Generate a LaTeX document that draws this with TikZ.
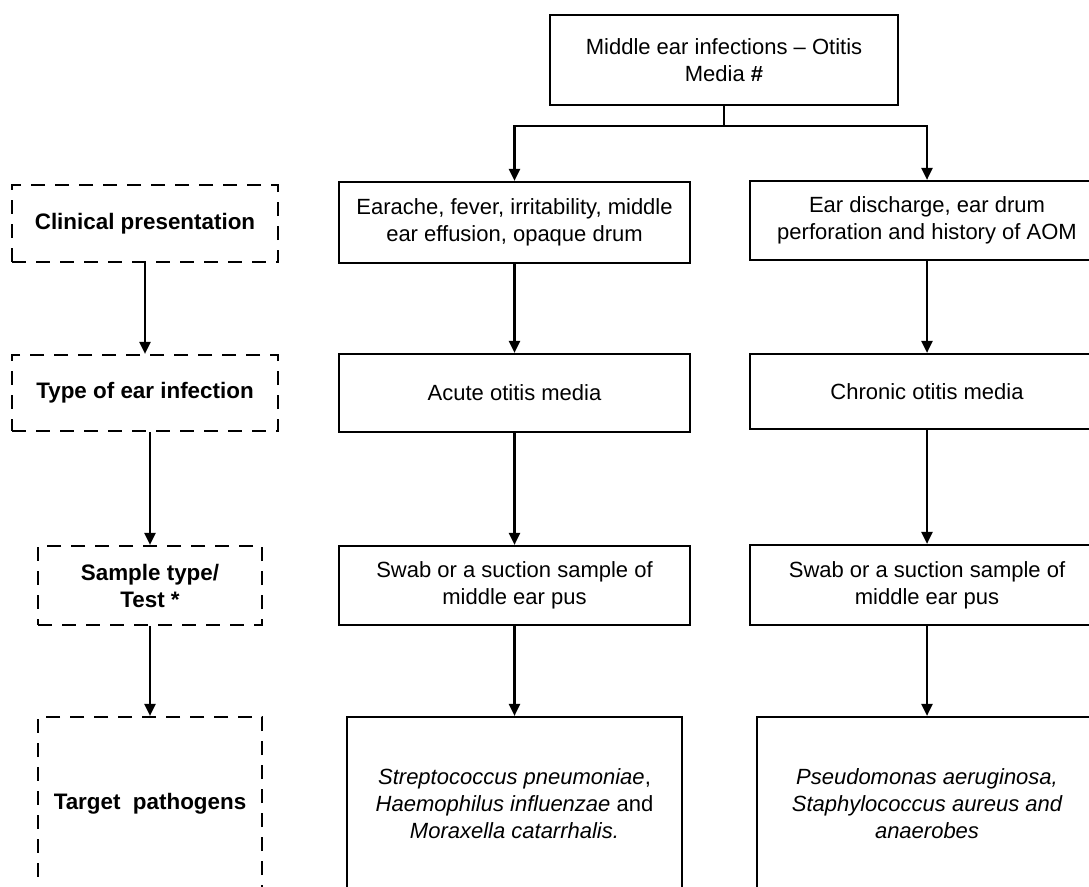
\documentclass[tikz,border=0pt]{standalone}
\usepackage{fontspec}
\setmainfont{Liberation Sans}
\usetikzlibrary{arrows.meta}
\begin{document}
\begin{tikzpicture}[x=1pt,y=-1pt,
  box/.style={draw, line width=2.2pt, align=center, inner sep=0pt, font=\fontsize{22}{27}\selectfont},
  dbox/.style={draw, line width=2.2pt, dash pattern=on 14pt off 10pt, align=center, inner sep=0pt, font=\bfseries\fontsize{22.4}{27}\selectfont},
  arr/.style={line width=2.2pt, -{Triangle[length=12pt,width=11pt]}},
  link/.style={line width=2.2pt}]
\useasboundingbox (0,0) rectangle (1089,886);
\clip (0,0) rectangle (1089,886);
% top
\node[box, minimum width=348pt, minimum height=90pt] (top) at (724,60) {Middle ear infections – Otitis\\Media \textbf{\#}};
% left column
\node[box, minimum width=351pt, minimum height=81pt] (l1) at (514.5,222.5) {Earache, fever, irritability, middle\\ear effusion, opaque drum};
\node[box, minimum width=351pt, minimum height=78pt] (l2) at (514.5,393) {Acute otitis media};
\node[box, minimum width=351pt, minimum height=79pt] (l3) at (514.5,585.5) {Swab or a suction sample of\\middle ear pus};
\node[box, minimum width=335pt, minimum height=174pt] (l4) at (514.5,804) {\itshape Streptococcus pneumoniae\upshape,\\\itshape Haemophilus influenzae\upshape{} and\\\itshape Moraxella catarrhalis.};
% right column
\node[box, minimum width=354pt, minimum height=79pt] (r1) at (927,220.5) {Ear discharge, ear drum\\perforation and history of AOM};
\node[box, minimum width=354pt, minimum height=75pt] (r2) at (927,391.5) {Chronic otitis media};
\node[box, minimum width=354pt, minimum height=80pt] (r3) at (927,585) {Swab or a suction sample of\\middle ear pus};
\node[box, minimum width=340pt, minimum height=174pt] (r4) at (927,804) {\itshape Pseudomonas aeruginosa,\\\itshape Staphylococcus aureus and\\\itshape anaerobes};
% dashed label boxes
\node[dbox, minimum width=266pt, minimum height=77pt] (d1) at (145,223.5) {Clinical presentation};
\node[dbox, minimum width=266pt, minimum height=76pt] (d2) at (145,393) {Type of ear infection};
\node[dbox, minimum width=224pt, minimum height=79pt] (d3) at (150,585.5) {Sample type/\\Test *};
\node[dbox, minimum width=224pt, minimum height=174pt] (d4) at (150,804) {Target~ pathogens};
% connectors
\coordinate (split) at (724,126);
\draw[link] (top.south) -- (split);
\draw[arr] (split) -| (l1.north);
\draw[arr] (split) -| (r1.north);
\draw[arr] (l1) -- (l2);
\draw[arr] (l2) -- (l3);
\draw[arr] (l3) -- (l4);
\draw[arr] (r1) -- (r2);
\draw[arr] (r2) -- (r3);
\draw[arr] (r3) -- (r4);
\draw[arr] (d1) -- (d2);
\draw[arr] (d2.south -| d3.north) -- (d3.north);
\draw[arr] (d3) -- (d4);
\end{tikzpicture}
\end{document}
